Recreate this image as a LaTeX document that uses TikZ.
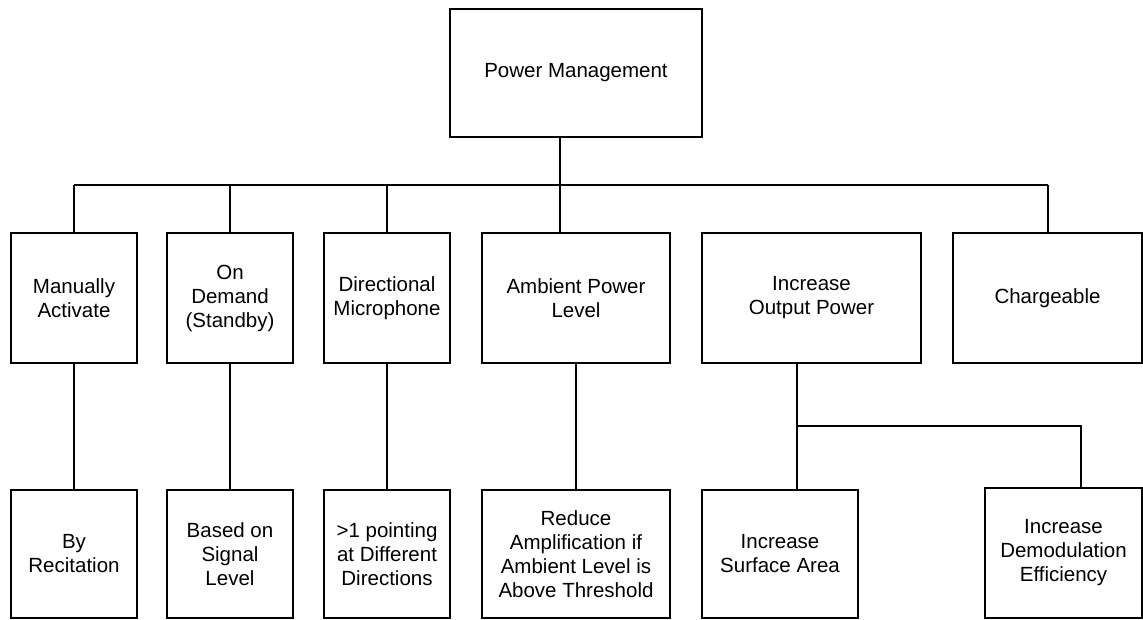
\documentclass[tikz,border=0pt]{standalone}
\usepackage{fontspec}
\setmainfont{Liberation Sans}
\begin{document}
\begin{tikzpicture}[x=1pt,y=1pt,
  box/.style={draw=black, line width=1.4pt, align=center, inner sep=2pt,
    font=\fontsize{20.5}{24}\selectfont, text=black},
  conn/.style={draw=black, line width=1.4pt}]
\useasboundingbox (0,0) rectangle (1143,-620);
% top
\node[box, minimum width=252, minimum height=128] (top) at (576,-73) {Power Management};
% row 2
\node[box, minimum width=126, minimum height=130] (A) at (74,-298) {Manually\\Activate};
\node[box, minimum width=126, minimum height=130] (B) at (230,-298) {On\\Demand\\(Standby)};
\node[box, minimum width=126, minimum height=130] (C) at (387,-298) {Directional\\Microphone};
\node[box, minimum width=188, minimum height=130] (D) at (576,-298) {Ambient Power\\Level};
\node[box, minimum width=219, minimum height=130] (E) at (811.5,-298) {Increase\\Output Power};
\node[box, minimum width=189, minimum height=130] (F) at (1047.5,-298) {Chargeable};
% row 3
\node[box, minimum width=126, minimum height=128] (A2) at (74,-554) {By\\Recitation};
\node[box, minimum width=126, minimum height=128] (B2) at (230,-554) {Based on\\Signal\\Level};
\node[box, minimum width=126, minimum height=128] (C2) at (387,-554) {>1 pointing\\at Different\\Directions};
\node[box, minimum width=188, minimum height=128] (D2) at (576,-554) {Reduce\\Amplification if\\Ambient Level is\\Above Threshold};
\node[box, minimum width=156, minimum height=128] (E2) at (780,-554) {Increase\\Surface Area};
\node[box, minimum width=157, minimum height=130] (F2) at (1063.5,-553) {Increase\\Demodulation\\Efficiency};
% bus
\coordinate (busL) at (74,-185);
\coordinate (busR) at (1048,-185);
\coordinate (eJ) at (797,-426);
\coordinate (fJ) at (1081,-426);
\draw[conn] (busL) -- (busR);
\draw[conn] ([xshift=-16]top.south) -- ([xshift=-16]D.north);
\draw[conn] (A.north |- busL) -- (A.north);
\draw[conn] (B.north |- busL) -- (B.north);
\draw[conn] (C.north |- busL) -- (C.north);
\draw[conn] (E.north -| eJ) -- (E.north -| eJ |- busL);
\draw[conn] (busR) -- (busR |- F.north);
% row 2 to row 3
\draw[conn] (A.south) -- (A2.north);
\draw[conn] (B.south) -- (B2.north);
\draw[conn] (C.south) -- (C2.north);
\draw[conn] (D.south) -- (D2.north);
\draw[conn] (E.south -| eJ) -- (E2.north -| eJ);
\draw[conn] (eJ) -- (fJ) -- (fJ |- F2.north);
\end{tikzpicture}
\end{document}
